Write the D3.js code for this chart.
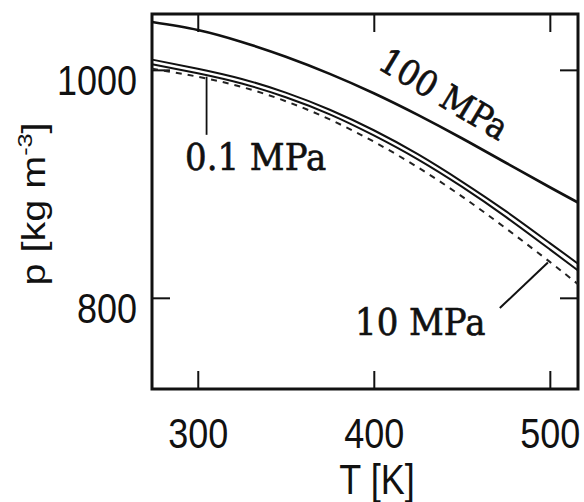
<!DOCTYPE html>
<html>
<head>
<meta charset="utf-8">
<script src="https://cdn.jsdelivr.net/npm/d3@7"></script>
<style>
  html, body { margin: 0; padding: 0; background: #fff; }
  svg { display: block; }
</style>
</head>
<body>
<svg id="chart" width="584" height="502"></svg>
<script>
// values
var temps = [274, 300, 325, 350, 375, 400, 425, 450, 475, 500, 516];
var rho100 = [1042, 1035, 1024.5, 1011.5, 996.5, 979.5, 960.5, 940, 918.5, 897, 883.6];
var rho10 = [1009, 1001, 992, 980, 965, 947, 926, 902, 876, 848, 830];
var rho01 = [1005, 997, 988, 976, 961, 942.5, 921.5, 897.5, 871, 842.5, 824];
var rhoDashed = [1001, 994, 985, 972.5, 956.5, 937, 914.5, 889, 861, 831.5, 812];
var xTicks = [300, 400, 500];
var yTicks = [800, 1000];

var svg = d3.select('#chart');
// plot box (note: "top" is reserved on window, so use a box object)
var box = {l: 152, r: 578, t: 14, b: 389};

var x = d3.scaleLinear().domain([274, 516]).range([box.l, box.r]);
var y = d3.scaleLinear().domain([720, 1049]).range([box.b, box.t]);

var sans = 'Liberation Sans, Arial, sans-serif';
var serif = 'DejaVu Serif, serif';

svg.append('defs').append('clipPath').attr('id', 'plot')
  .append('rect')
  .attr('x', box.l).attr('y', box.t)
  .attr('width', box.r - box.l).attr('height', box.b - box.t);

// axes with inward ticks on all four sides
var tick = 18;
var axB = svg.append('g').attr('transform', 'translate(0,' + box.b + ')')
  .call(d3.axisBottom(x).tickValues(xTicks).tickSizeInner(-tick).tickSizeOuter(0));
var axT = svg.append('g').attr('transform', 'translate(0,' + box.t + ')')
  .call(d3.axisTop(x).tickValues(xTicks).tickSizeInner(-tick).tickSizeOuter(0).tickFormat(''));
var axL = svg.append('g').attr('transform', 'translate(' + box.l + ',0)')
  .call(d3.axisLeft(y).tickValues(yTicks).tickSizeInner(-tick).tickSizeOuter(0).tickFormat(d3.format('d')));
var axR = svg.append('g').attr('transform', 'translate(' + box.r + ',0)')
  .call(d3.axisRight(y).tickValues(yTicks).tickSizeInner(-tick).tickSizeOuter(0).tickFormat(''));

[axB, axT, axL, axR].forEach(function(a) {
  a.select('.domain').remove();
  a.selectAll('.tick line').attr('stroke', '#111').attr('stroke-width', 2);
});

axB.selectAll('.tick text')
  .attr('y', null).attr('dy', null)
  .attr('transform', 'translate(0,59) scale(1,1.17)')
  .attr('font-family', sans).attr('font-size', 36).attr('fill', '#111')
  .attr('text-anchor', 'middle');

axL.selectAll('.tick text')
  .attr('x', null).attr('dy', null)
  .attr('transform', 'translate(-15,25) scale(1,1.17)')
  .attr('font-family', sans).attr('font-size', 36).attr('fill', '#111')
  .attr('text-anchor', 'end');

// frame
svg.append('rect')
  .attr('x', box.l).attr('y', box.t)
  .attr('width', box.r - box.l).attr('height', box.b - box.t)
  .attr('fill', 'none').attr('stroke', '#111').attr('stroke-width', 3);

// curves
var line = function(vals) {
  return d3.line()
    .x(function(d, i) { return x(temps[i]); })
    .y(function(d) { return y(d); })
    .curve(d3.curveNatural)(vals);
};

var g = svg.append('g').attr('clip-path', 'url(#plot)');
g.append('path').attr('d', line(rho100))
  .attr('fill', 'none').attr('stroke', '#111').attr('stroke-width', 2.6);
g.append('path').attr('d', line(rho10))
  .attr('fill', 'none').attr('stroke', '#111').attr('stroke-width', 2);
g.append('path').attr('d', line(rho01))
  .attr('fill', 'none').attr('stroke', '#111').attr('stroke-width', 2);
g.append('path').attr('d', line(rhoDashed))
  .attr('fill', 'none').attr('stroke', '#222').attr('stroke-width', 2)
  .attr('stroke-dasharray', '6,6');

// labels and leader lines
var serifLabel = function(sel) {
  sel.attr('font-family', serif).attr('fill', '#111')
    .attr('stroke', '#111').attr('stroke-width', 0.6);
};

svg.append('text')
  .attr('transform', 'translate(444,94) rotate(31) scale(1,1.1)')
  .attr('dy', '0.35em')
  .attr('text-anchor', 'middle')
  .attr('font-size', 32)
  .call(serifLabel)
  .text('100 MPa');

svg.append('line')
  .attr('x1', x(305)).attr('y1', y(994))
  .attr('x2', x(305)).attr('y2', y(943))
  .attr('stroke', '#111').attr('stroke-width', 1.8);
svg.append('text')
  .attr('transform', 'translate(185,170) scale(1,1.1)')
  .attr('font-size', 34)
  .call(serifLabel)
  .text('0.1 MPa');

svg.append('line')
  .attr('x1', x(471.6)).attr('y1', y(791))
  .attr('x2', x(498.9)).attr('y2', y(831))
  .attr('stroke', '#111').attr('stroke-width', 2);
svg.append('text')
  .attr('transform', 'translate(355,335) scale(1,1.1)')
  .attr('font-size', 34)
  .call(serifLabel)
  .text('10 MPa');

// axis titles
svg.append('text')
  .attr('transform', 'translate(377,494) scale(1,1.17)')
  .attr('text-anchor', 'middle')
  .attr('font-family', sans).attr('font-size', 36).attr('fill', '#111')
  .text('T [K]');

var yt = svg.append('text')
  .attr('transform', 'translate(45,204) rotate(-90) scale(1.2,1)')
  .attr('text-anchor', 'middle')
  .attr('font-family', sans).attr('font-size', 33).attr('fill', '#111');
yt.append('tspan').text('p [kg m');
yt.append('tspan').attr('font-size', 21).attr('dy', -13).text('-3');
yt.append('tspan').attr('dy', 13).text(']');
</script>
</body>
</html>
